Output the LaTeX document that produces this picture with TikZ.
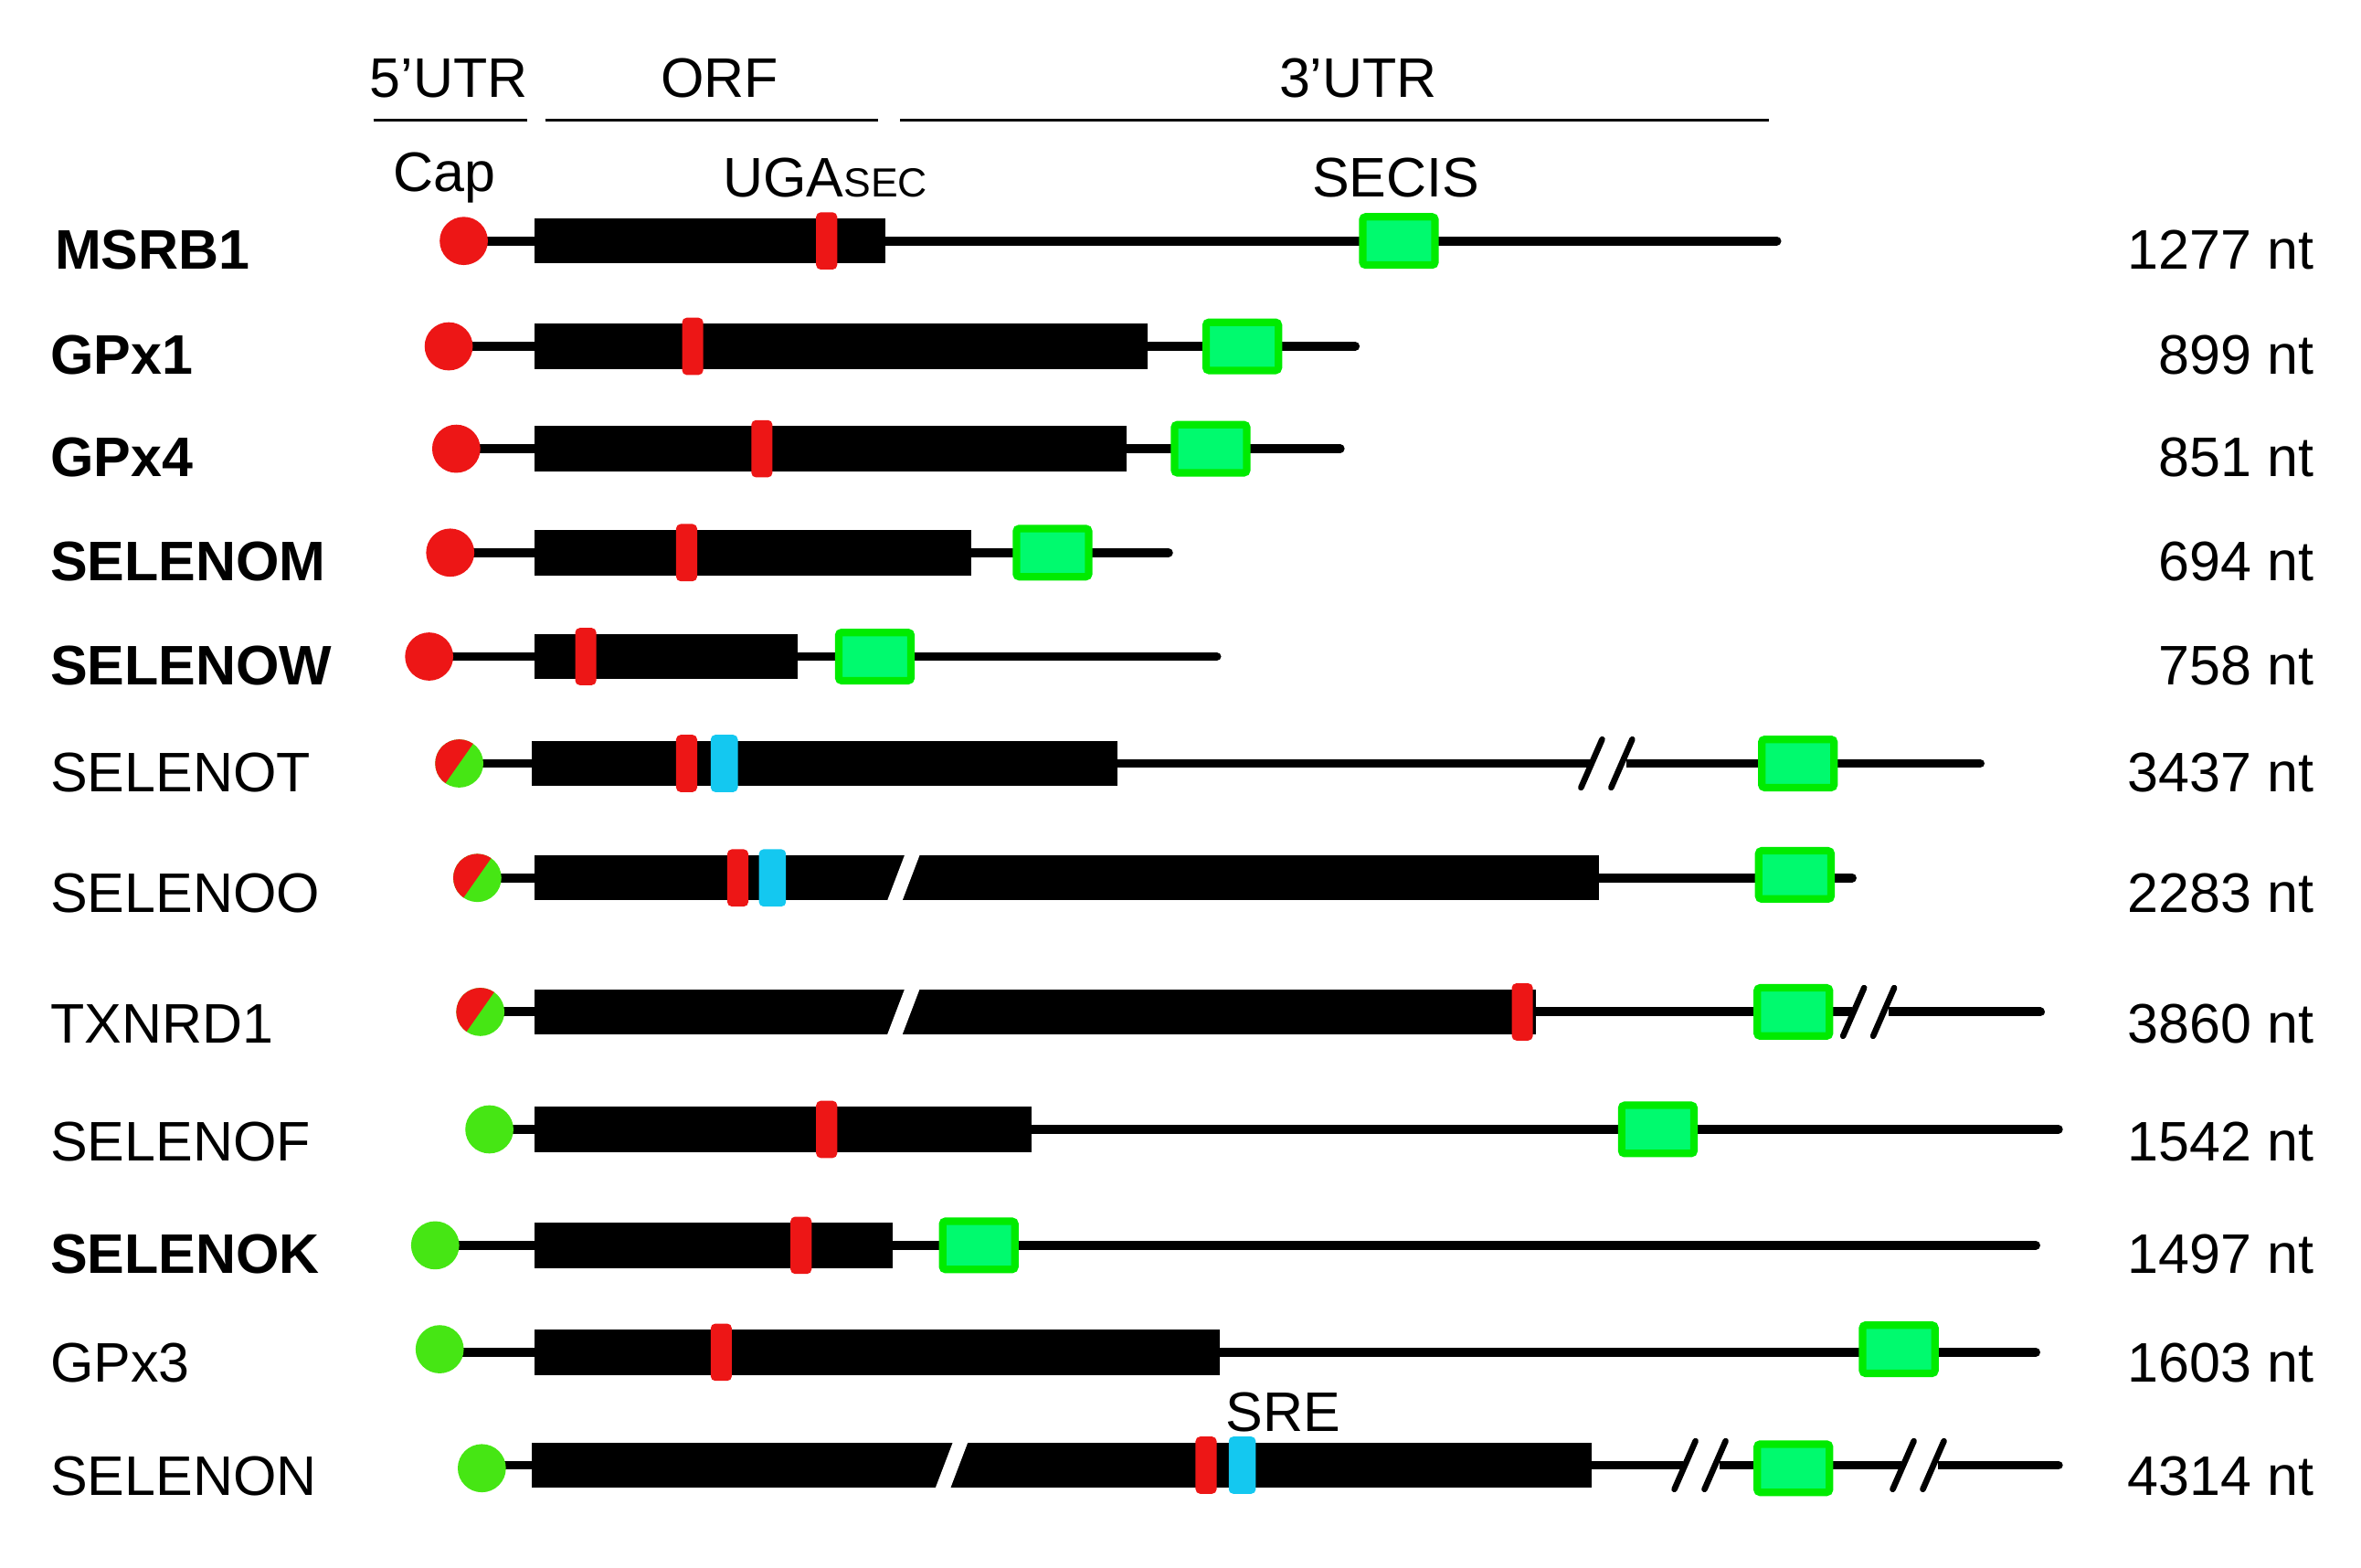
\documentclass[tikz,border=0pt]{standalone}
\usepackage{fontspec}
\setmainfont{Liberation Sans}
\begin{document}
\begin{tikzpicture}[x=1pt,y=-1pt]
\definecolor{cred}{RGB}{237,22,22}
\definecolor{cgreen}{RGB}{70,230,20}
\definecolor{cblue}{RGB}{20,200,240}
\definecolor{sfill}{RGB}{0,250,110}
\definecolor{sedge}{RGB}{0,235,0}
\tikzset{thin line/.style={line width=6,line cap=round},
 lab/.style={anchor=west,font=\fontsize{37}{40}\selectfont},
 num/.style={anchor=east,font=\fontsize{37}{40}\selectfont},
 hdr/.style={font=\fontsize{37}{40}\selectfont}}
\useasboundingbox (0,0) rectangle (1568,1041);
\newcommand{\myorf}[3]{\fill (#1,#3-15) rectangle (#2,#3+15);}
\newcommand{\mytline}[3]{\draw[thin line] (#1,#3) -- (#2,#3);}
\newcommand{\mycapc}[3]{\fill[#3] (#1,#2) circle (16);}
\newcommand{\mycapm}[2]{\begin{scope}\clip (#1,#2) circle (16);
 \fill[cgreen] (#1-20,#2-20) rectangle (#1+20,#2+20);
 \fill[cred] (#1-20,#2-20) -- (#1+14,#2-20) -- (#1-14,#2+20) -- (#1-20,#2+20) -- cycle;\end{scope}}
\newcommand{\mysec}[2]{\fill[cred,rounded corners=3] (#1-7,#2-19) rectangle (#1+7,#2+19);}
\newcommand{\mysre}[2]{\fill[cblue,rounded corners=3] (#1-9,#2-19) rectangle (#1+9,#2+19);}
\newcommand{\mysecis}[2]{\draw[sedge,fill=sfill,line width=5,rounded corners=2] (#1-24,#2-16) rectangle (#1+24,#2+16);}
\newcommand{\mytbrk}[2]{\fill[white] (#1-13,#2+21) -- (#1-3,#2+21) -- (#1+13,#2-21) -- (#1+3,#2-21) -- cycle;}
\newcommand{\mylbrk}[2]{\fill[white] (#1-12,#2-5) rectangle (#1+12,#2+5);
 \draw[line width=4,line cap=round] (#1-18,#2+16) -- (#1-4,#2-16) (#1+2,#2+16) -- (#1+16,#2-16);}
% headers
\node[hdr] at (298,52) {5'UTR};
\node[hdr] at (478,52) {ORF};
\node[hdr] at (902,52) {3'UTR};
\draw[line width=2] (248,80) -- (350,80) (362,80) -- (583,80) (598,80) -- (1175,80);
\node[hdr] at (295,118) {Cap};
\node[hdr] at (548,118) {UGA{\fontsize{27}{30}\selectfont SEC}};
\node[hdr] at (927,118) {SECIS};
\node[hdr] at (852,938) {SRE};
% MSRB1
\mytline{308}{1180}{160}\myorf{355}{588}{160}\mysec{549}{160}\mysecis{929}{160}\mycapc{308}{160}{cred}
\node[lab,font=\fontsize{37}{40}\selectfont\bfseries] at (33,166) {MSRB1};\node[num] at (1540,166) {1277 nt};
% GPx1
\mytline{298}{900}{230}\myorf{355}{762}{230}\mysec{460}{230}\mysecis{825}{230}\mycapc{298}{230}{cred}
\node[lab,font=\fontsize{37}{40}\selectfont\bfseries] at (30,236) {GPx1};\node[num] at (1540,236) {899 nt};
% GPx4
\mytline{303}{890}{298}\myorf{355}{748}{298}\mysec{506}{298}\mysecis{804}{298}\mycapc{303}{298}{cred}
\node[lab,font=\fontsize{37}{40}\selectfont\bfseries] at (30,304) {GPx4};\node[num] at (1540,304) {851 nt};
% SELENOM
\mytline{299}{776}{367}\myorf{355}{645}{367}\mysec{456}{367}\mysecis{699}{367}\mycapc{299}{367}{cred}
\node[lab,font=\fontsize{37}{40}\selectfont\bfseries] at (30,373) {SELENOM};\node[num] at (1540,373) {694 nt};
% SELENOW
\mytline{285}{808}{436}\myorf{355}{530}{436}\mysec{389}{436}\mysecis{581}{436}\mycapc{285}{436}{cred}
\node[lab,font=\fontsize{37}{40}\selectfont\bfseries] at (30,442) {SELENOW};\node[num] at (1540,442) {758 nt};
% SELENOT
\mytline{305}{1315}{507}\myorf{353}{742}{507}\mysec{456}{507}\mysre{481}{507}\mylbrk{1068}{507}\mysecis{1194}{507}\mycapm{305}{507}
\node[lab] at (30,513) {SELENOT};\node[num] at (1540,513) {3437 nt};
% SELENOO
\mytline{317}{1230}{583}\myorf{355}{1062}{583}\mysec{490}{583}\mysre{513}{583}\mytbrk{600}{583}\mysecis{1192}{581}\mycapm{317}{583}
\node[lab] at (30,593) {SELENOO};\node[num] at (1540,593) {2283 nt};
% TXNRD1
\mytline{319}{1355}{672}\myorf{355}{1020}{672}\mysec{1011}{672}\mytbrk{600}{672}\mylbrk{1242}{672}\mysecis{1191}{672}\mycapm{319}{672}
\node[lab] at (30,680) {TXNRD1};\node[num] at (1540,680) {3860 nt};
% SELENOF
\mytline{325}{1367}{750}\myorf{355}{685}{750}\mysec{549}{750}\mysecis{1101}{750}\mycapc{325}{750}{cgreen}
\node[lab] at (30,758) {SELENOF};\node[num] at (1540,758) {1542 nt};
% SELENOK
\mytline{289}{1352}{827}\myorf{355}{593}{827}\mysec{532}{827}\mysecis{650}{827}\mycapc{289}{827}{cgreen}
\node[lab,font=\fontsize{37}{40}\selectfont\bfseries] at (30,833) {SELENOK};\node[num] at (1540,833) {1497 nt};
% GPx3
\mytline{292}{1352}{898}\myorf{355}{810}{898}\mysec{479}{898}\mysecis{1261}{896}\mycapc{292}{896}{cgreen}
\node[lab] at (30,905) {GPx3};\node[num] at (1540,905) {1603 nt};
% SELENON
\mytline{320}{1367}{973}\myorf{353}{1057}{973}\mysec{801}{973}\mysre{825}{973}\mytbrk{632}{973}\mylbrk{1130}{973}\mylbrk{1275}{973}\mysecis{1191}{975}\mycapc{320}{975}{cgreen}
\node[lab] at (30,980) {SELENON};\node[num] at (1540,980) {4314 nt};
\end{tikzpicture}
\end{document}
